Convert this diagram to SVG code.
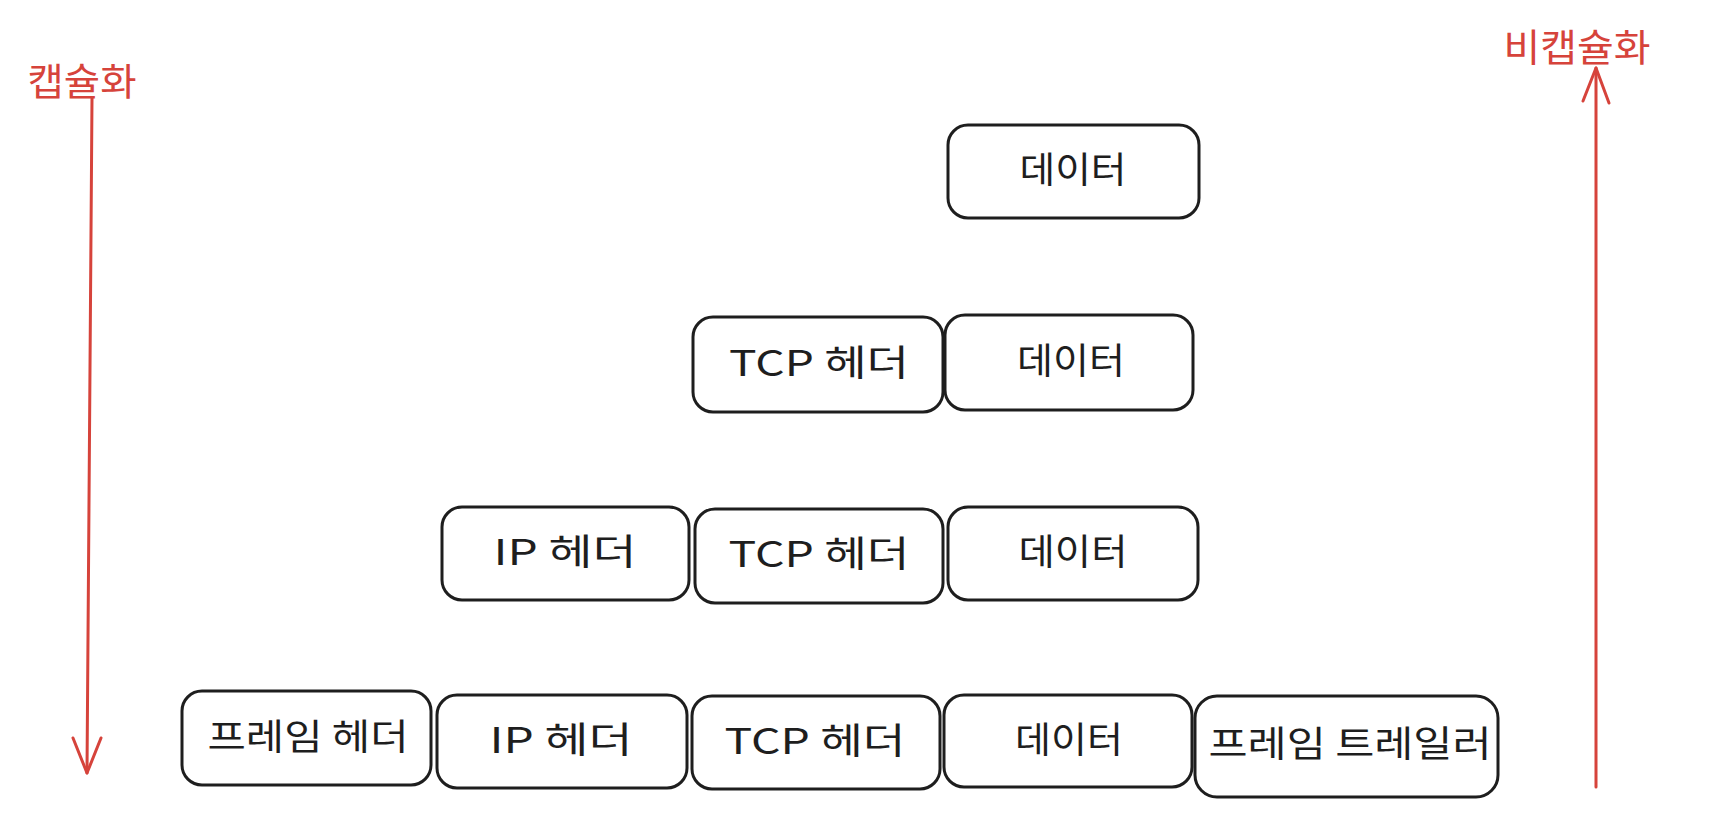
<svg xmlns="http://www.w3.org/2000/svg" width="1718" height="832" viewBox="0 0 1718 832">
<style>
.box{fill:#ffffff;stroke:#1e1e1e;stroke-width:3}
.t{font-family:"Noto Sans CJK KR","Noto Sans",sans-serif;font-size:36px;fill:#1e1e1e;text-anchor:middle;dominant-baseline:central}
.lbl{font-family:"Noto Sans CJK KR","Noto Sans",sans-serif;font-size:38px;fill:#d6433b;text-anchor:middle;dominant-baseline:central}
.arr{fill:none;stroke:#d6433b;stroke-width:3;stroke-linecap:round;stroke-linejoin:round}
</style>
<rect width="1718" height="832" fill="#ffffff"/>
<g id="label-encap"><text class="lbl" x="82" y="78" textLength="109" lengthAdjust="spacingAndGlyphs">캡슐화</text></g>
<g id="label-decap"><text class="lbl" x="1577" y="44" textLength="147" lengthAdjust="spacingAndGlyphs">비캡슐화</text></g>
<g id="connectors">
<path class="arr" d="M92 98 L87 773"/>
<path class="arr" d="M73 738 L87 773 L101 738"/>
<path class="arr" d="M1596 787 L1596 68"/>
<path class="arr" d="M1583 101 L1596 68 L1609 103"/>
</g>
<g id="r1-data"><rect class="box" x="948" y="125" width="251" height="93" rx="20"/><text class="t" x="1073" y="167" textLength="107" lengthAdjust="spacingAndGlyphs">데이터</text></g>
<g id="r2-tcp"><rect class="box" x="693" y="317" width="250" height="95" rx="20"/><text class="t" x="819" y="360" textLength="180" lengthAdjust="spacingAndGlyphs">TCP 헤더</text></g>
<g id="r2-data"><rect class="box" x="945" y="315" width="248" height="95" rx="20"/><text class="t" x="1071" y="358" textLength="108" lengthAdjust="spacingAndGlyphs">데이터</text></g>
<g id="r3-ip"><rect class="box" x="442" y="507" width="247" height="93" rx="20"/><text class="t" x="565" y="549" textLength="143" lengthAdjust="spacingAndGlyphs">IP 헤더</text></g>
<g id="r3-tcp"><rect class="box" x="695" y="509" width="248" height="94" rx="20"/><text class="t" x="819" y="551" textLength="181" lengthAdjust="spacingAndGlyphs">TCP 헤더</text></g>
<g id="r3-data"><rect class="box" x="948" y="507" width="250" height="93" rx="20"/><text class="t" x="1073" y="549" textLength="109" lengthAdjust="spacingAndGlyphs">데이터</text></g>
<g id="r4-frame-header"><rect class="box" x="182" y="691" width="249" height="94" rx="20"/><text class="t" x="308" y="734" textLength="201" lengthAdjust="spacingAndGlyphs">프레임 헤더</text></g>
<g id="r4-ip"><rect class="box" x="437" y="695" width="250" height="93" rx="20"/><text class="t" x="561" y="737" textLength="143" lengthAdjust="spacingAndGlyphs">IP 헤더</text></g>
<g id="r4-tcp"><rect class="box" x="692" y="696" width="248" height="93" rx="20"/><text class="t" x="815" y="738" textLength="181" lengthAdjust="spacingAndGlyphs">TCP 헤더</text></g>
<g id="r4-data"><rect class="box" x="944" y="695" width="248" height="92" rx="20"/><text class="t" x="1069" y="737" textLength="108" lengthAdjust="spacingAndGlyphs">데이터</text></g>
<g id="r4-frame-trailer"><rect class="box" x="1195" y="696" width="303" height="101" rx="22"/><text class="t" x="1350" y="741" textLength="283" lengthAdjust="spacingAndGlyphs">프레임 트레일러</text></g>
</svg>
